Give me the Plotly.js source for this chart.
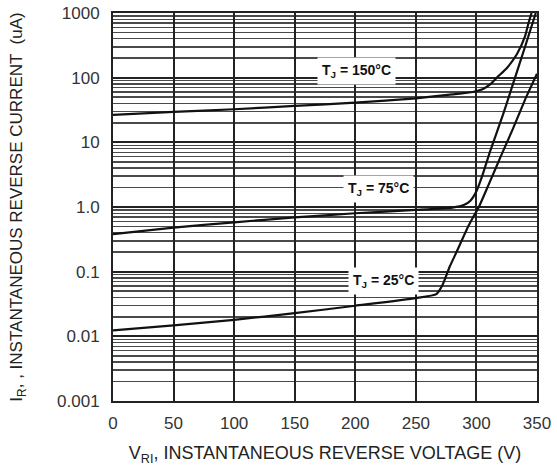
<!DOCTYPE html>
<html>
<head>
<meta charset="utf-8">
<script src="https://cdn.plot.ly/plotly-3.0.1.min.js"></script>
<style>html,body{margin:0;padding:0;background:#fff;}#chart{width:557px;height:469px;}</style>
</head>
<body>
<div id="chart"></div>
<script>
// Reverse voltage (V)
const v150 = [0, 50, 100, 150, 200, 250, 280, 297, 305, 311, 318, 325, 333.5, 340, 343, 345.5];
const i150 = [26.5, 29.5, 32.5, 36.5, 41, 48, 55, 60, 66, 78, 105, 140, 232, 430, 700, 1000];

const v75 = [0, 50, 100, 150, 200, 250, 280, 290, 295, 300, 305, 311, 322, 330, 340, 349];
const i75 = [0.38, 0.48, 0.58, 0.69, 0.80, 0.90, 0.98, 1.08, 1.25, 1.75, 3.1, 7.0, 27, 78, 295, 1000];

const v25 = [0, 50, 100, 150, 200, 250, 267, 272, 278, 284, 292, 297, 302, 310, 320, 330, 340, 350];
const i25 = [0.0124, 0.0148, 0.018, 0.0228, 0.0297, 0.039, 0.045, 0.062, 0.12, 0.21, 0.45, 0.68, 1.0, 2.2, 6.0, 16, 45, 115];

const yTickVals = [0.001, 0.01, 0.1, 1, 10, 100, 1000];
const yTickText = ['0.001', '0.01', '0.1', '1.0', '10', '100', '1000'];
const xTickVals = [0, 50, 100, 150, 200, 250, 300, 350];

const labels = [
  {text: 'T<sub>J</sub> = 150°C', x: 201, y: 125},
  {text: 'T<sub>J</sub> = 75°C', x: 219, y: 1.9},
  {text: 'T<sub>J</sub> = 25°C', x: 223, y: 0.073}
];

// minor grid positions (2..9 within each decade)
const minorVals = [];
for (let d = -3; d < 3; d++) {
  for (let k = 2; k <= 9; k++) minorVals.push(k * Math.pow(10, d));
}

const lineStyle = {color: '#111', width: 2.2, shape: 'spline', smoothing: 0.5};
const traces = [
  {x: v150, y: i150, mode: 'lines', line: lineStyle, hoverinfo: 'skip'},
  {x: v75, y: i75, mode: 'lines', line: lineStyle, hoverinfo: 'skip'},
  {x: v25, y: i25, mode: 'lines', line: lineStyle, hoverinfo: 'skip'}
];

const FONT = 'Liberation Sans, Arial, sans-serif';
const layout = {
  width: 557, height: 469,
  margin: {l: 113, r: 20, t: 13, b: 68},
  paper_bgcolor: '#fff', plot_bgcolor: '#fff',
  showlegend: false,
  font: {family: FONT, color: '#222'},
  xaxis: {
    range: [0, 350], tickvals: xTickVals, ticks: '',
    showgrid: true, gridcolor: '#222', gridwidth: 2,
    zeroline: false, showline: true, linecolor: '#222', linewidth: 2, mirror: true,
    tickfont: {family: FONT, size: 17, color: '#333'},
    ticklabelstandoff: 6,
    title: {text: 'V<sub>RI</sub>, INSTANTANEOUS REVERSE VOLTAGE (V)', font: {family: FONT, size: 18, color: '#222'}, standoff: 14},
    fixedrange: true
  },
  yaxis: {
    type: 'log', range: [-3, 3],
    tickvals: yTickVals, ticktext: yTickText, ticks: '',
    showgrid: true, gridcolor: '#222', gridwidth: 2,
    minor: {tickvals: minorVals, showgrid: true, gridcolor: '#4a4a4a', gridwidth: 1.5, ticks: ''},
    zeroline: false, showline: true, linecolor: '#222', linewidth: 2, mirror: true,
    tickfont: {family: FONT, size: 17, color: '#333'},
    ticklabelstandoff: 8,
    title: {text: 'I<sub>R</sub>, , INSTANTANEOUS REVERSE CURRENT  (uA)', font: {family: FONT, size: 17, color: '#222'}, standoff: 30},
    fixedrange: true
  },
  annotations: labels.map(l => ({
    x: l.x, y: Math.log10(l.y), xref: 'x', yref: 'y', text: l.text, showarrow: false,
    bgcolor: '#fff', borderpad: 4,
    font: {family: FONT, size: 14, color: '#111', weight: 'bold'}
  }))
};

Plotly.newPlot('chart', traces, layout, {displayModeBar: false, staticPlot: true});
</script>
</body>
</html>
